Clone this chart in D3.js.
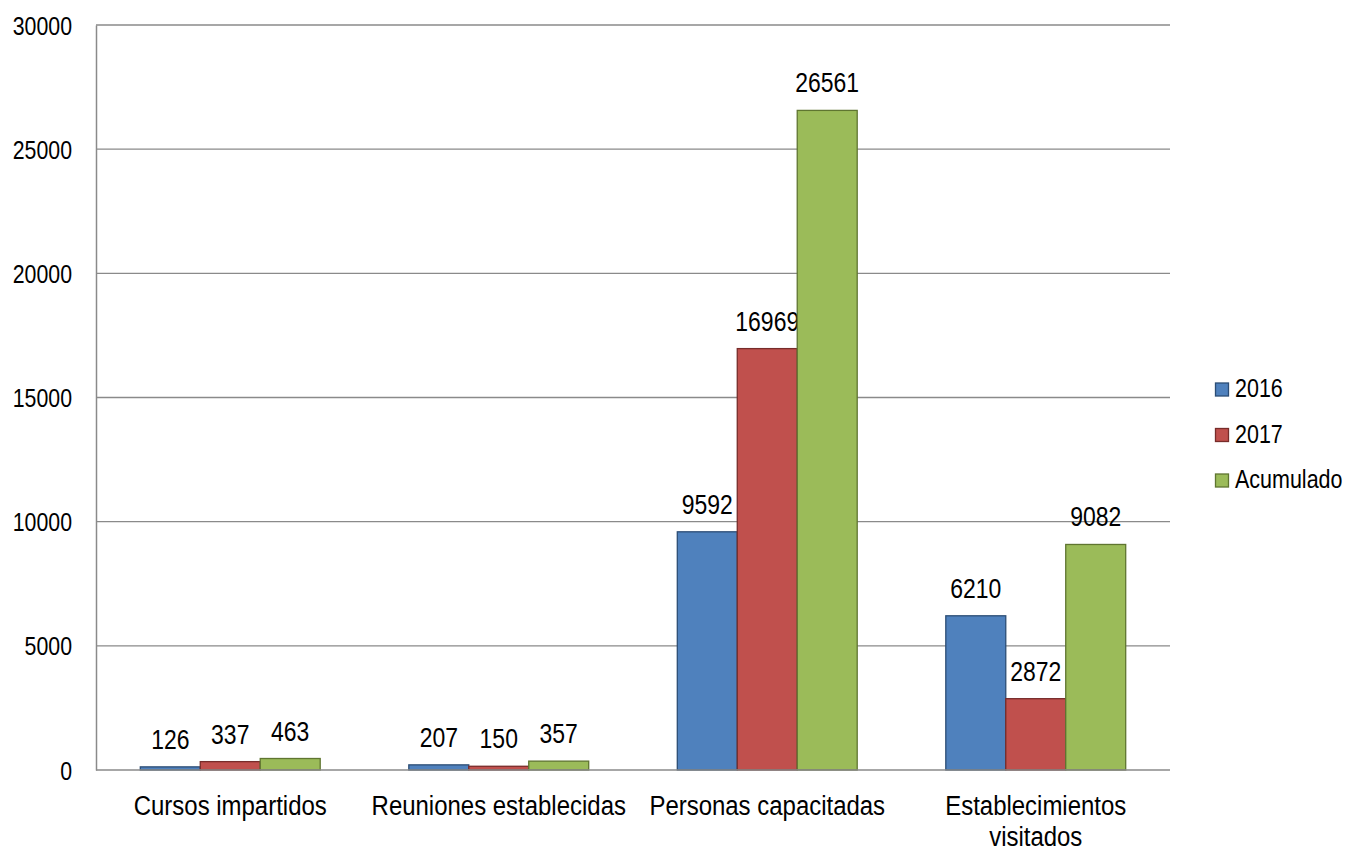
<!DOCTYPE html>
<html><head><meta charset="utf-8">
<script src="https://cdn.jsdelivr.net/npm/d3@7"></script>
<style>body{margin:0;background:#fff}svg{display:block}text{font-family:"Liberation Sans",Arial,sans-serif;fill:#000}</style>
</head><body><svg id="c" width="1346" height="852"></svg>
<script>
const categories = [["Cursos impartidos"],["Reuniones establecidas"],["Personas capacitadas"],["Establecimientos","visitados"]];
const seriesNames = ["2016","2017","Acumulado"];
const values2016 = [126,207,9592,6210];
const values2017 = [337,150,16969,2872];
const valuesAcum = [463,357,26561,9082];
const yTicks = [0,5000,10000,15000,20000,25000,30000];
const fills = ["#4F81BD","#C0504D","#9BBB59"];
const strokes = ["#2C4D75","#772C2A","#5F7530"];

const series = [values2016, values2017, valuesAcum];
const svg = d3.select("#c");
const L=96,R=1170,T=25,B=770;
const x = d3.scaleBand().domain(d3.range(categories.length)).range([L,R]).paddingInner(0.33).paddingOuter(0.165);
const xs = d3.scaleBand().domain(d3.range(3)).range([0,x.bandwidth()]);
const y = d3.scaleLinear().domain([0,30000]).range([B,T]);

function ntext(parent, px, py, size, sx, anchor, str){
  return parent.append("text").attr("transform",`translate(${px},${py}) scale(${sx},1)`)
    .attr("text-anchor",anchor).attr("font-size",size).text(str);
}

// gridlines
svg.append("g").selectAll("line").data(yTicks.slice(1)).join("line")
  .attr("x1",L).attr("x2",R).attr("y1",d=>y(d)).attr("y2",d=>y(d))
  .attr("stroke","#8a8a8a").attr("stroke-width",1.3);

// y axis
const ya = svg.append("g").attr("transform",`translate(${L},0)`).call(d3.axisLeft(y).tickValues(yTicks).tickSize(0).tickFormat(d3.format("d")));
ya.select(".domain").attr("stroke","#8a8a8a").attr("stroke-width",1.5);
ya.selectAll(".tick text").attr("x",0).attr("dy","0.35em").attr("font-size",26)
  .attr("font-family","Liberation Sans, Arial, sans-serif").attr("fill","#000")
  .attr("transform","translate(-24,0) scale(0.82,1)");

// bars
const g = svg.append("g");
series.forEach((vals,si)=>{
  g.selectAll(".b"+si).data(vals).join("rect").attr("class","b"+si)
    .attr("x",(d,i)=>x(i)+xs(si)).attr("width",xs.bandwidth())
    .attr("y",d=>y(d)).attr("height",d=>B-y(d))
    .attr("fill",fills[si]).attr("stroke",strokes[si]).attr("stroke-width",1.3);
  vals.forEach((d,i)=>ntext(g, x(i)+xs(si)+xs.bandwidth()/2, y(d)-18, 28, 0.82, "middle", d));
});

// x axis
svg.append("line").attr("x1",L).attr("x2",R).attr("y1",B).attr("y2",B).attr("stroke","#8a8a8a").attr("stroke-width",1.5);
const xg = svg.append("g");
categories.forEach((lines,i)=>lines.forEach((s,j)=>ntext(xg, x(i)+x.bandwidth()/2, 815+j*31, 28, 0.856, "middle", s)));

// legend
const lg = svg.append("g");
seriesNames.forEach((s,i)=>{
  const yy = 397 + i*45.5;
  lg.append("rect").attr("x",1215.5).attr("y",yy-14).attr("width",13).attr("height",13)
    .attr("fill",fills[i]).attr("stroke",strokes[i]).attr("stroke-width",1.3);
  ntext(lg, 1235, yy, 25, 0.86, "start", s);
});
</script></body></html>
